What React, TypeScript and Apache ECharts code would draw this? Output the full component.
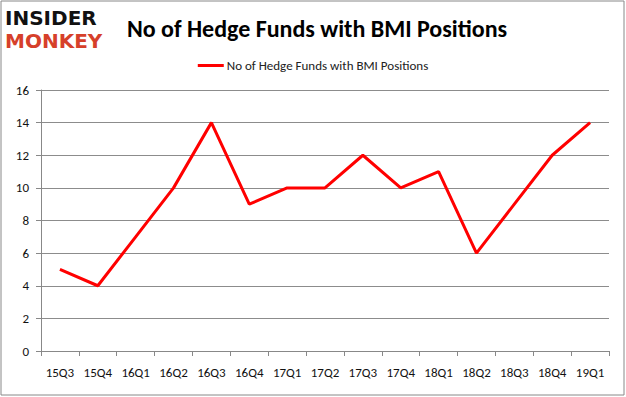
import React, { useEffect, useRef } from "react";
import * as echarts from "echarts";

const categories = ["15Q3","15Q4","16Q1","16Q2","16Q3","16Q4","17Q1","17Q2","17Q3","17Q4","18Q1","18Q2","18Q3","18Q4","19Q1"];
const hedgeFunds = [5, 4, 7, 10, 14, 9, 10, 10, 12, 10, 11, 6, 9, 12, 14];
const seriesName = "No of Hedge Funds with BMI Positions";
const titleText = "No of Hedge Funds with BMI Positions";

export default function App() {
  const ref = useRef<HTMLDivElement>(null);
  useEffect(() => {
    if (!ref.current) return;
    const chart = echarts.init(ref.current, null, { renderer: "svg" });
    const font = "Carlito, 'Open Sans', 'Noto Sans', sans-serif";
    chart.setOption({
      animation: false,
      backgroundColor: "#ffffff",
      title: {
        text: titleText,
        left: 312,
        textAlign: "center",
        top: 11,
        textStyle: { fontSize: 24, fontWeight: "bold", color: "#000", fontFamily: font },
      },
      legend: {
        data: [seriesName],
        top: 54,
        left: "center",
        itemWidth: 26,
        itemHeight: 3,
        itemGap: 4,
        icon: "rect",
        textStyle: { fontSize: 13, color: "#222", fontFamily: font, padding: [0, 0, 0, -2] },
      },
      grid: { left: 41, right: 17, top: 90, bottom: 46, containLabel: false },
      xAxis: {
        type: "category",
        data: categories,
        boundaryGap: true,
        axisLine: { lineStyle: { color: "#888", width: 1 } },
        axisTick: { show: true, alignWithLabel: false, length: 5, lineStyle: { color: "#888" } },
        axisLabel: { color: "#111", fontSize: 13, margin: 15, fontFamily: font },
      },
      yAxis: {
        type: "value",
        min: 0,
        max: 16,
        interval: 2,
        axisLine: { show: true, lineStyle: { color: "#888", width: 1 } },
        axisTick: { show: true, length: 5, lineStyle: { color: "#888" } },
        axisLabel: { color: "#111", fontSize: 13, margin: 12, fontFamily: font },
        splitLine: { show: true, lineStyle: { color: "#8c8c8c", width: 1 } },
      },
      series: [
        {
          name: seriesName,
          type: "line",
          data: hedgeFunds,
          symbol: "none",
          lineStyle: { color: "#ff0000", width: 3 },
          itemStyle: { color: "#ff0000" },
        },
      ],
      graphic: [
        {
          type: "rect",
          shape: { x: 1, y: 1, width: 623, height: 394 },
          style: { fill: "none", stroke: "#888", lineWidth: 1 },
        },
        {
          type: "text",
          x: 5,
          y: 8,
          style: { text: "INSIDER", fill: "#111", font: "900 20px 'DejaVu Sans', sans-serif" },
        },
        {
          type: "text",
          x: 5,
          y: 31,
          style: { text: "MONKEY", fill: "#d6402a", font: "900 20px 'DejaVu Sans', sans-serif" },
        },
      ],
    });
    return () => chart.dispose();
  }, []);
  return <div ref={ref} style={{ width: 626, height: 397, position: "absolute", left: 0, top: 0 }} />;
}
